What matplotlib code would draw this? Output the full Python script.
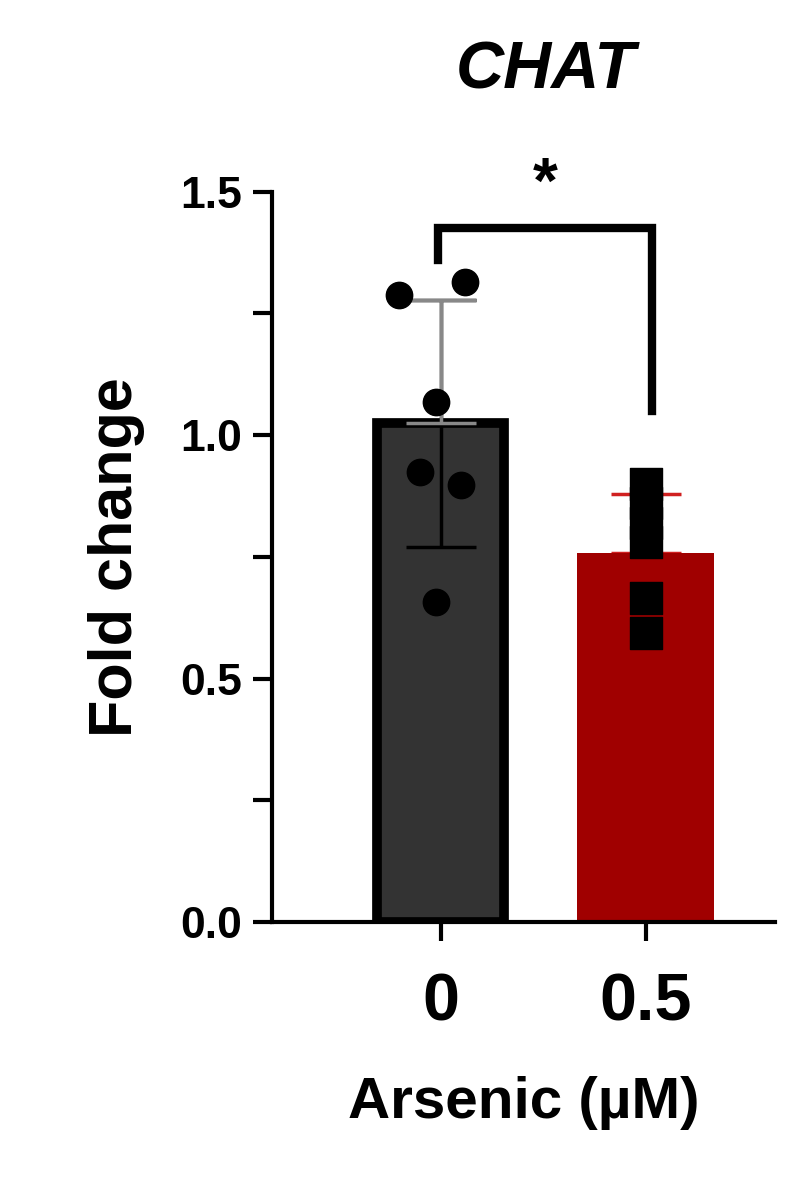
import matplotlib
matplotlib.use("Agg")
import matplotlib.pyplot as plt
import numpy as np

plt.rcParams['font.family'] = ['Liberation Sans', 'DejaVu Sans']
categories = ["0", "0.5"]
ctrl = [1.287, 1.314, 1.068, 0.924, 0.897, 0.657]
ars = [0.90, 0.86, 0.82, 0.78, 0.665, 0.593]
means = [1.024, 0.758]
sds = [0.253, 0.121]

fig = plt.figure(figsize=(8.08, 11.9), dpi=100)
ax = fig.add_axes([0.337, 0.225, 0.622, 0.614])
x = np.arange(2)
ax.bar(0, means[0], width=0.62, color='#333333', edgecolor='black', linewidth=7, zorder=2)
ax.bar(1, means[1], width=0.67, color='#a00000', edgecolor='none', zorder=2)
ax.errorbar(0, means[0], yerr=sds[0], color='black', capsize=25, elinewidth=2.5, capthick=2.5, zorder=3)
ax.errorbar(0, means[0]+sds[0]/2, yerr=sds[0]/2, color='#888888', capsize=25, elinewidth=2.5, capthick=2.5, zorder=3, fmt='none')
ax.errorbar(1, means[1], yerr=[[0], [sds[1]]], color='#d02020', capsize=25, elinewidth=2.5, capthick=2.5, zorder=1)
offs0 = [-0.2, 0.12, -0.02, -0.1, 0.1, -0.02]
ax.scatter(np.array(offs0), ctrl, s=360, color='black', zorder=4)
ax.scatter(np.full(len(ars), 1.0), ars, s=560, marker='s', color='black', zorder=4)

ax.set_xlim(-0.82, 1.63)
ax.set_ylim(0, 1.5)
ax.set_yticks([0, 0.5, 1.0, 1.5])
ax.set_yticklabels(["0.0", "0.5", "1.0", "1.5"], fontsize=32, fontweight='bold')
ax.set_yticks([0.25, 0.75, 1.25], minor=True)
ax.set_xticks(x)
ax.set_xticklabels(categories, fontsize=48, fontweight='bold')
ax.tick_params(axis='y', which='both', length=14, width=3, pad=8)
ax.tick_params(axis='x', length=14, width=3, pad=22)
for s in ['top', 'right']:
    ax.spines[s].set_visible(False)
for s in ['left', 'bottom']:
    ax.spines[s].set_linewidth(3)
ax.set_ylabel("Fold change", fontsize=44, fontweight='bold', labelpad=25)
ax.set_xlabel("Arsenic (µM)", fontsize=42, fontweight='bold', labelpad=30)
ax.plot([-0.01, -0.01, 1.03, 1.03], [1.36, 1.425, 1.425, 1.05], color='black', lw=6, clip_on=False, solid_joinstyle='miter')
ax.text(0.51, 1.45, "*", ha='center', va='bottom', fontsize=46, fontweight='bold')
fig.text(0.675, 0.94, "CHAT", ha='center', va='center', fontsize=48, fontweight='bold', style='italic')
fig.savefig("out.png", dpi=100)
